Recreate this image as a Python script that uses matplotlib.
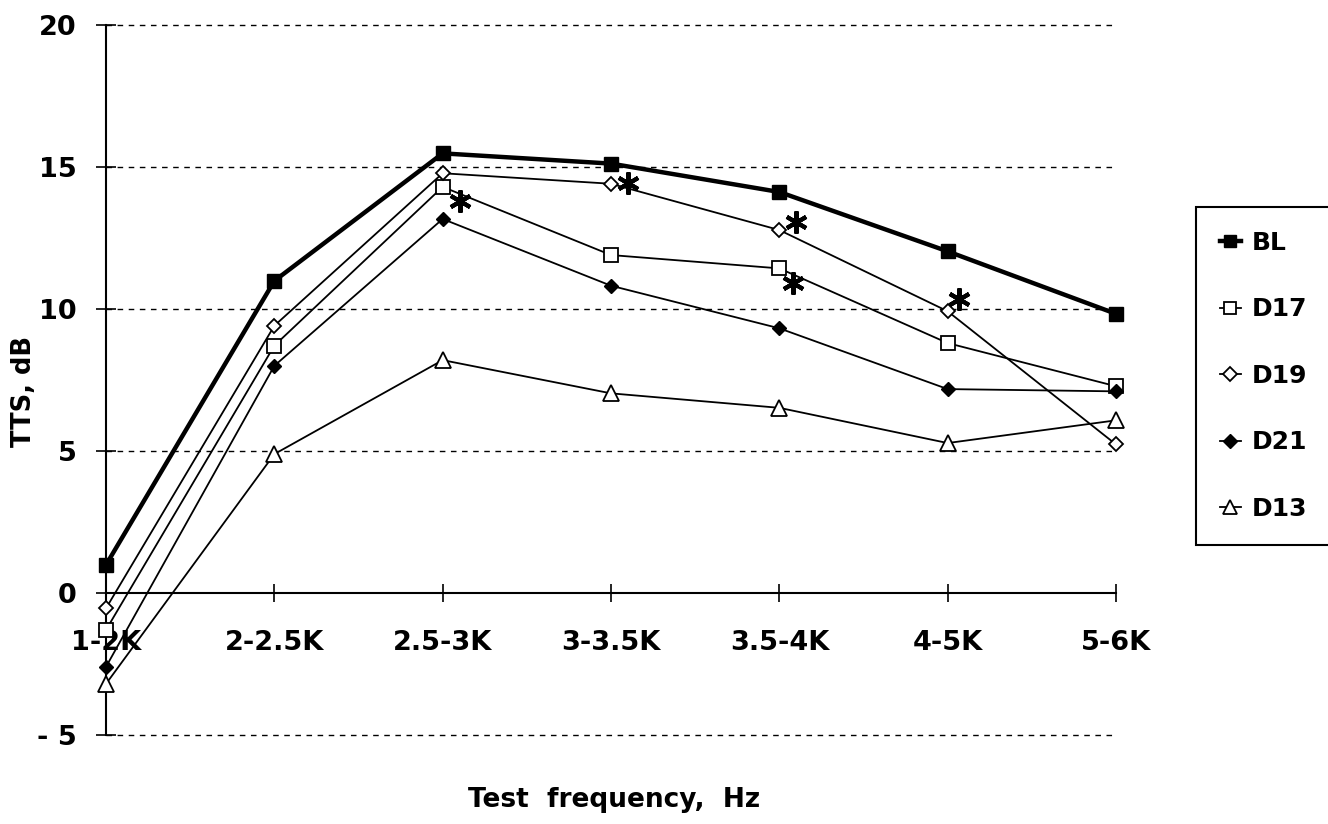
import matplotlib
matplotlib.use("Agg")
import matplotlib.pyplot as plt

plt.rcParams['font.family'] = ['DejaVu Sans']
plt.rcParams['font.weight'] = 'bold'

categories = ["1-2K", "2-2.5K", "2.5-3K", "3-3.5K", "3.5-4K", "4-5K", "5-6K"]
BL  = [0.99, 10.99, 15.48, 15.12, 14.12, 12.03, 9.83]
D17 = [-1.3, 8.71, 14.3, 11.9, 11.43, 8.8, 7.28]
D19 = [-0.54, 9.41, 14.78, 14.41, 12.78, 9.92, 5.23]
D21 = [-2.6, 8.0, 13.17, 10.82, 9.32, 7.18, 7.1]
D13 = [-3.2, 4.89, 8.2, 7.03, 6.52, 5.28, 6.08]

# significance asterisks: (category position, value)
star_x = [2.10, 3.10, 4.10, 4.08, 5.07]
star_y = [13.8, 14.45, 13.05, 10.9, 10.35]

yticks = [-5, 0, 5, 10, 15, 20]
ytick_labels = ["- 5", "0", "5", "10", "15", "20"]
grid_levels = [-5, 5, 10, 15, 20]

W, H = 1328, 824
fig = plt.figure(figsize=(W / 100, H / 100), dpi=100)
ax = fig.add_axes([106 / W, 1 - 735 / H, 1010 / W, 710 / H])

x = list(range(len(categories)))

for lvl in grid_levels:
    ax.axhline(lvl, color='black', lw=1.0, ls=(0, (4, 4)), zorder=1, clip_on=False)

ax.plot(x, BL, color='black', lw=3.2, marker='s', ms=9.5, mfc='black', mec='black',
        label='BL', zorder=5, clip_on=False)
ax.plot(x, D17, color='black', lw=1.3, marker='s', ms=10, mfc='white', mec='black',
        mew=1.3, label='D17', zorder=4, clip_on=False)
ax.plot(x, D19, color='black', lw=1.3, marker='D', ms=7.5, mfc='white', mec='black',
        mew=1.3, label='D19', zorder=4, clip_on=False)
ax.plot(x, D21, color='black', lw=1.3, marker='D', ms=7.5, mfc='black', mec='black',
        label='D21', zorder=4, clip_on=False)
ax.plot(x, D13, color='black', lw=1.3, marker='^', ms=11, mfc='white', mec='black',
        mew=1.3, label='D13', zorder=4, clip_on=False)

ax.plot(star_x, star_y, ls='none', marker=(6, 2, 0), ms=16, mew=3.0, color='black',
        zorder=6)

ax.set_xlim(0, 6)
ax.set_ylim(-5, 20)
ax.spines['top'].set_visible(False)
ax.spines['right'].set_visible(False)
ax.spines['bottom'].set_position(('data', 0))
ax.spines['left'].set_linewidth(1.5)
ax.spines['bottom'].set_linewidth(1.5)

ax.set_xticks(x)
ax.set_xticklabels(categories, fontsize=19.5, fontweight='bold')
ax.set_yticks(yticks)
ax.set_yticklabels(ytick_labels, fontsize=19.5, fontweight='bold')
ax.tick_params(axis='x', direction='inout', length=13, width=1.2, pad=20)
ax.tick_params(axis='y', direction='inout', length=14, width=1.2, pad=14)

fig.text(614 / W, 1 - 800 / H, "Test  frequency,  Hz", ha='center', va='center',
         fontsize=19, fontweight='bold')
fig.text(24 / W, 1 - 391 / H, "TTS, dB", ha='center', va='center', rotation=90,
         fontsize=18.5, fontweight='bold')

leg = fig.legend(loc='upper left', bbox_to_anchor=(1196 / W, 1 - 207 / H),
                 bbox_transform=fig.transFigure, frameon=True, fancybox=False,
                 framealpha=1, edgecolor='black', fontsize=18, handlelength=0.85,
                 handletextpad=0.45, labelspacing=1.7, borderpad=0.95,
                 borderaxespad=0, markerscale=0.9)
leg.get_frame().set_linewidth(1.5)
for t in leg.get_texts():
    t.set_fontweight('bold')

fig.savefig("out.png", dpi=100)
